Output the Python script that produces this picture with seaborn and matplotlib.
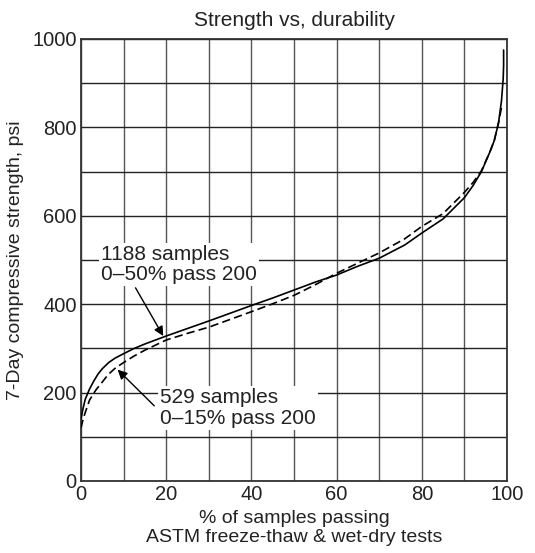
import numpy as np
import pandas as pd
import matplotlib
matplotlib.use("Agg")
import matplotlib.pyplot as plt
import seaborn as sns

# values
x_1188 = [0, 0.5, 1, 2, 3, 4, 5, 6.5, 8, 10, 12.5, 15, 20, 25, 30, 40, 45, 50, 55, 60, 65, 70, 76, 80, 85,
          90, 92, 94, 96, 97, 98, 98.7, 99.1, 99.2, 99.2]
y_1188 = [140, 165, 185, 208, 226, 242, 254, 268, 278, 288, 300, 310, 328, 345, 362, 397, 414, 432, 450, 466, 486,
          504, 534, 561, 593, 641, 668, 700, 745, 770, 810, 860, 910, 940, 975]
x_529 = [0, 0.5, 1, 2, 3.5, 5, 6.4, 8, 10, 12.5, 15, 20, 25, 30, 40, 45, 50, 55, 60, 65, 70, 76, 80, 85,
         90, 92, 94, 96, 97, 98, 98.8]
y_529 = [120, 140, 155, 183, 206, 224, 241, 255, 268, 283, 296, 319, 334, 348, 383, 401, 420, 444, 470, 493,
         516, 548, 576, 605, 653, 675, 702, 745, 770, 810, 850]

label_1188 = "1188 samples\n0\u201350% pass 200"
label_529 = "529 samples\n0\u201315% pass 200"

df = pd.concat([
    pd.DataFrame({"pct": x_1188, "strength": y_1188, "group": "1188"}),
    pd.DataFrame({"pct": x_529, "strength": y_529, "group": "529"}),
], ignore_index=True)

sns.set_style("white")
plt.rcParams["font.family"] = ["Liberation Sans", "DejaVu Sans"]

fig = plt.figure(figsize=(5.35, 5.53), dpi=100)
ax = fig.add_axes([0.1514, 0.1302, 0.7963, 0.7993])

sns.lineplot(data=df, x="pct", y="strength", style="group", estimator=None, sort=False,
             dashes={"1188": "", "529": (5, 2.5)}, color="black", linewidth=1.2,
             legend=False, ax=ax, zorder=3)

ax.set_xlim(0, 100)
ax.set_ylim(0, 1000)
ax.set_xticks(np.arange(0, 101, 20))
ax.set_yticks(np.arange(0, 1001, 200))
ax.set_xticks(np.arange(0, 101, 10), minor=True)
ax.set_yticks(np.arange(0, 1001, 100), minor=True)
ax.grid(which="both", axis="x", color="#555555", linewidth=1)
ax.grid(which="both", axis="y", color="#222222", linewidth=1)
ax.tick_params(which="both", length=0, labelsize=14.5, pad=3, colors="#222222")
for s in ax.spines.values():
    s.set_color("#333333")
    s.set_linewidth(1.3)

ax.set_title("Strength vs, durability", fontsize=15, pad=9, color="#222222")
ax.set_xlabel("% of samples passing\nASTM freeze-thaw & wet-dry tests", fontsize=14,
              labelpad=4, color="#222222", linespacing=1.2)
ax.set_ylabel("7-Day compressive strength, psi", fontsize=14, labelpad=6, color="#222222")

box = dict(facecolor="white", edgecolor="none", pad=1.5)
ax.text(4.6, 490, label_1188, fontsize=15, ha="left", va="center", color="#222222",
        bbox=box, zorder=4, linespacing=1.1)
ax.text(18.6, 165, label_529, fontsize=15, ha="left", va="center", color="#222222",
        bbox=box, zorder=4, linespacing=1.1)

arrow = dict(arrowstyle="-|>", color="black", lw=1, mutation_scale=14, shrinkA=0, shrinkB=0)
ax.annotate("", xy=(19.3, 328), xytext=(12.8, 437), arrowprops=arrow, zorder=5)
ax.annotate("", xy=(8.6, 252), xytext=(17.2, 170), arrowprops=arrow, zorder=5)

fig.savefig("out.png", dpi=100)
